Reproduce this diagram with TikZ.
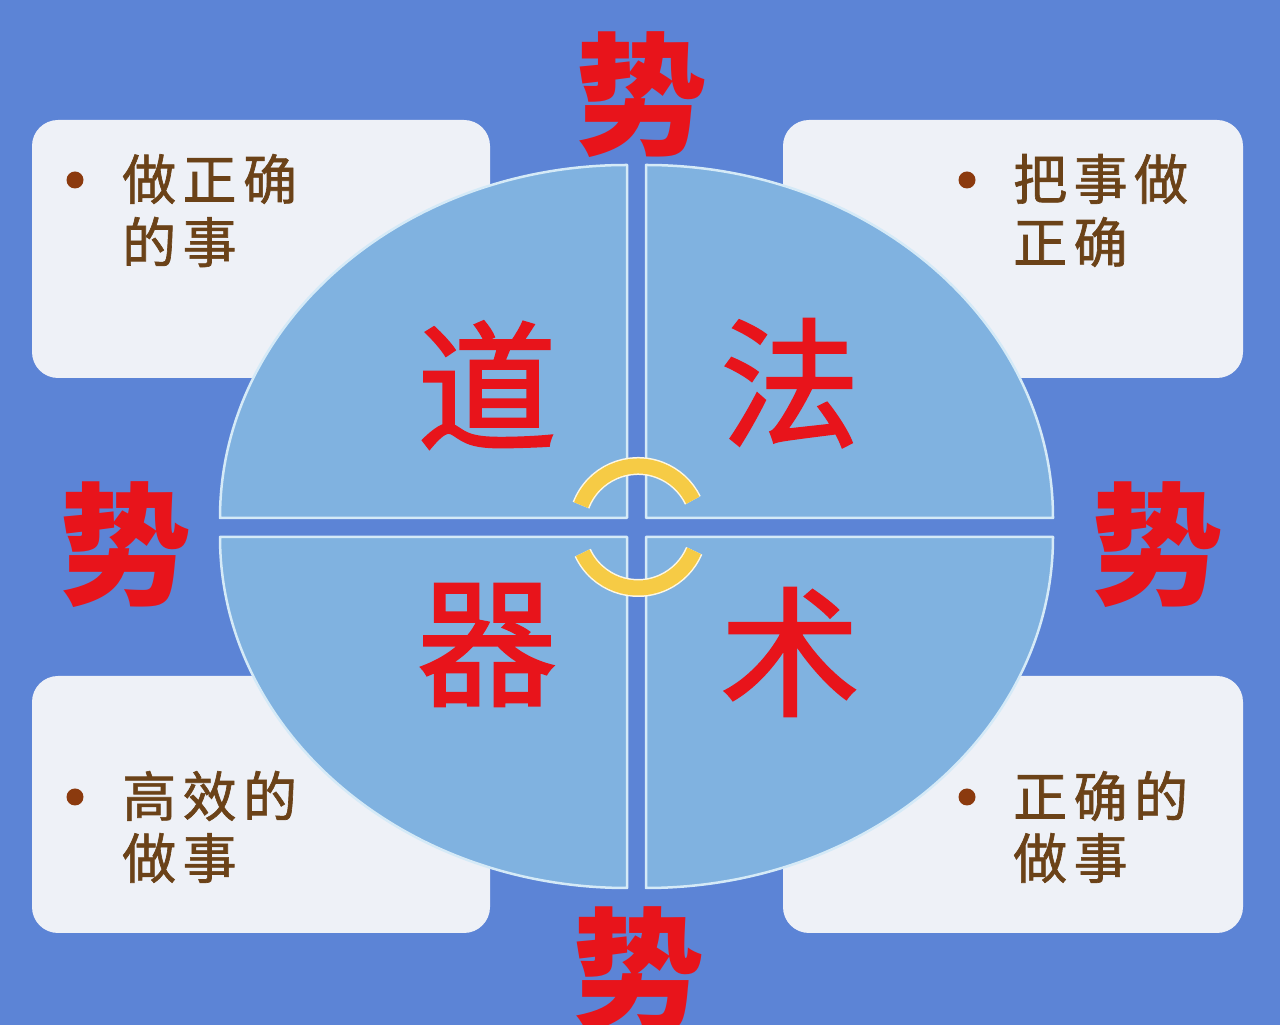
\documentclass[tikz,border=0pt]{standalone}
\usepackage{fontspec}
\usetikzlibrary{arrows.meta}
\newfontfamily\cjk{Noto Sans CJK SC}
\newfontfamily\cjkm{Noto Sans CJK SC}[FakeBold=1.6]
\newfontfamily\cjkt{Noto Sans CJK SC}[FakeBold=1.2,LetterSpace=12]
\definecolor{bgblue}{HTML}{5C84D6}
\definecolor{boxfill}{HTML}{EEF1F7}
\definecolor{quadfill}{HTML}{80B2E0}
\definecolor{quadline}{HTML}{D5EAF7}
\definecolor{redtxt}{HTML}{E8141B}
\definecolor{browntxt}{HTML}{6B4218}
\definecolor{bulletc}{HTML}{8B3A0E}
\definecolor{arcyellow}{HTML}{F6CB45}
\begin{document}
\begin{tikzpicture}[x=1pt,y=1pt,
  cornerbox/.style={fill=boxfill, rounded corners=26pt},
  quad/.style={fill=quadfill, draw=quadline, line width=2.5pt, line join=round},
  bigred/.style={text=redtxt, font=\cjkm\fontsize{140}{140}\selectfont, inner sep=0pt},
  shi/.style={text=redtxt, font=\cjk\bfseries\fontsize{132}{132}\selectfont, inner sep=0pt},
  boxtxt/.style={text=browntxt, font=\cjkt\fontsize{54}{54}\selectfont, inner sep=0pt, anchor=west},
  bulletdot/.style={circle, fill=bulletc, minimum size=17pt, inner sep=0pt},
  cyc/.style={draw=arcyellow, line width=15pt},
  cycedge/.style={draw=white!85!arcyellow, line width=18pt}
]
\useasboundingbox (0,0) rectangle (1280,1025);
\fill[bgblue] (0,0) rectangle (1280,1025);

% corner boxes
\path[cornerbox] (32,647) rectangle (490,905);
\path[cornerbox] (783,647) rectangle (1243,905);
\path[cornerbox] (32,92) rectangle (490,349);
\path[cornerbox] (783,92) rectangle (1243,349);

% quadrants of the ellipse
\path[quad] (627,507) -- (220,507) arc[start angle=180, end angle=90, x radius=407, y radius=353] -- cycle;
\path[quad] (646,507) -- (646,860) arc[start angle=90, end angle=0, x radius=407, y radius=353] -- cycle;
\path[quad] (627,488) -- (220,488) arc[start angle=180, end angle=270, x radius=407, y radius=351] -- cycle;
\path[quad] (646,488) -- (1053,488) arc[start angle=0, end angle=-90, x radius=407, y radius=351] -- cycle;

% cycle arcs
\coordinate (cc) at (638,498);
\path[cycedge] ([shift={(159:61)}]cc) arc[start angle=159, end angle=26, radius=61];
\path[cyc] ([shift={(159:61)}]cc) arc[start angle=159, end angle=26, radius=61];
\path[cycedge] ([shift={(205:61)}]cc) arc[start angle=205, end angle=337, radius=61];
\path[cyc] ([shift={(205:61)}]cc) arc[start angle=205, end angle=337, radius=61];

% big red characters
\node[bigred] (dao) at (487,640) {道};
\node[bigred] (fa)  at (790,642) {法};
\node[bigred] (qi)  at (487,380) {器};
\node[bigred] (shu) at (790,373) {术};

% shi around
\node[shi] (shiT) at (641,930) {势};
\node[shi] (shiL) at (125,480) {势};
\node[shi] (shiR) at (1157,480) {势};
\node[shi] (shiB) at (638,55) {势};

% box texts
\node[bulletdot] (b1) at (75,845) {};
\node[boxtxt] (t1a) at (122,846) {做正确};
\node[boxtxt] (t1b) at (122,783) {的事};

\node[bulletdot] (b2) at (967,845) {};
\node[boxtxt] (t2a) at (1013,846) {把事做};
\node[boxtxt] (t2b) at (1013,783) {正确};

\node[bulletdot] (b3) at (75,228) {};
\node[boxtxt] (t3a) at (122,229) {高效的};
\node[boxtxt] (t3b) at (122,167) {做事};

\node[bulletdot] (b4) at (967,228) {};
\node[boxtxt] (t4a) at (1013,229) {正确的};
\node[boxtxt] (t4b) at (1013,167) {做事};
\end{tikzpicture}
\end{document}
